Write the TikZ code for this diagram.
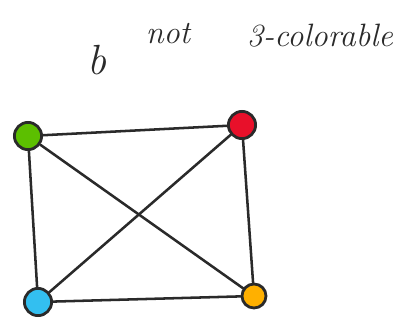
\documentclass[tikz,border=0pt]{standalone}
\usepackage{tikz}
\usetikzlibrary{positioning}
\definecolor{vgreen}{HTML}{5CBF00}
\definecolor{vred}{HTML}{E8102A}
\definecolor{vblue}{HTML}{33BFF0}
\definecolor{vorange}{HTML}{FFB000}
\definecolor{ink}{HTML}{2A2A2A}

\begin{document}
\begin{tikzpicture}[x=0.025cm, y=-0.025cm, every node/.style={font=\fontsize{23}{25}\selectfont\itshape}]
        \useasboundingbox (0,0) rectangle (402,325);
        \tikzset{vertex/.style={circle, draw=ink, line width=2pt, minimum size=0.68cm, inner sep=0pt}}
        \node[vertex, fill=vgreen] (G) at (28,136) {};
        \node[vertex, fill=vred] (R) at (242,125) {};
        \node[vertex, fill=vblue] (B) at (38,302) {};
        \node[vertex, fill=vorange, minimum size=0.6cm] (O) at (254,296) {};
        \foreach \i/\j in {G/R,G/B,R/O,B/O,G/O,R/B}
            \draw[ink, line width=1.8pt, line cap=round] (\i) -- (\j);
        \node[ink, font=\fontsize{30}{32}\selectfont\itshape] (part) at (97,60) {b};
        \node[ink] (not) at (168,34) {not};
        \node[ink, anchor=west] (col) at (242,36) {3-colorable};
    \end{tikzpicture}
\end{document}
